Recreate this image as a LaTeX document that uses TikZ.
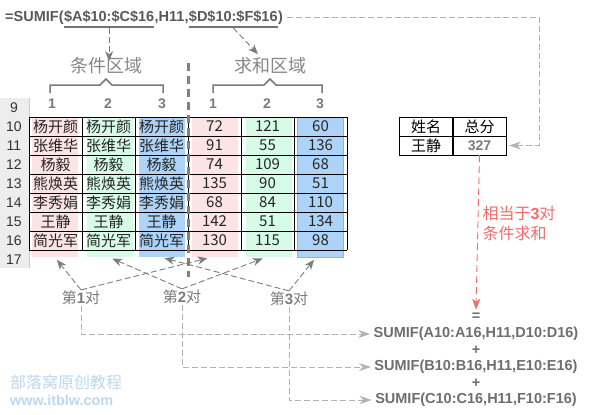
\documentclass[tikz,border=0pt]{standalone}
\usepackage{fontspec}
\setmainfont{Liberation Sans}
\newfontfamily\cjk{Noto Sans CJK SC}
\newcommand\pairno[1]{{\rmfamily\bfseries #1}}
\usetikzlibrary{arrows.meta}
\definecolor{cpink}{HTML}{FDE4E4}
\definecolor{cgreen}{HTML}{D6FCE8}
\definecolor{cblue}{HTML}{ADD3F8}
\definecolor{cbluedk}{HTML}{8CB6E2}
\definecolor{cgray}{HTML}{7A7A7A}
\definecolor{cline}{HTML}{9C9C9C}
\definecolor{cred}{HTML}{F26B6B}
\definecolor{cwater}{HTML}{BBD7F2}

\begin{document}
\begin{tikzpicture}[x=1pt,y=-1pt,
  cell/.style={inner sep=0pt,font=\cjk\fontsize{15}{18}\selectfont,text=black!85},
  band/.style={inner sep=0pt,minimum width=46pt,minimum height=140pt,anchor=north},
  fpart/.style={inner sep=0pt,anchor=base west,text=black!65,font=\bfseries\fontsize{14.5}{17}\selectfont},
  colno/.style={text=cgray,font=\bfseries\fontsize{14}{16}\selectfont},
  area/.style={text=cgray!90,font=\cjk\fontsize{18}{20}\selectfont},
  pair/.style={text=cgray,font=\cjk\fontsize{15}{17}\selectfont,inner sep=1pt},
  sumif/.style={text=cgray!90!black,font=\bfseries\fontsize{14.5}{17}\selectfont},
  tcell/.style={draw,minimum width=53pt,minimum height=19pt,inner sep=0pt,font=\cjk\fontsize{15}{18}\selectfont},
  gdash/.style={draw=cline,dash pattern=on 6pt off 3pt,line width=0.9pt},
  tip/.style={-{Stealth[length=10pt,width=8pt,inset=3pt]},cline!80!black},
  ltip/.style={-{Stealth[length=12pt,width=8pt,inset=4pt]},draw=black!30}]
\useasboundingbox (0,0) rectangle (600,415);

% row header
\fill[black!7] (0,98) rectangle (29,268);
\draw[black!20] (29,98) -- (29,268);
\foreach \r in {9,...,17}
  \node[text=black!80,font=\fontsize{14}{16}\selectfont] (row\r) at (14,{126.5+(\r-10)*19}) {\r};

% coloured columns
\node[band,fill=cpink] (colA) at (55,117) {};
\node[band,fill=cgreen] (colB) at (109.5,117) {};
\node[band,fill=cblue] (colC) at (161.5,117) {};
\node[band,fill=cpink] (colD) at (214.5,117) {};
\node[band,fill=cgreen] (colE) at (268.5,117) {};
\node[band,fill=cblue,draw=cbluedk] (colF) at (320,117) {};

% grid
\foreach \i in {0,...,6} \draw ({29+53*\i},117) -- ({29+53*\i},250);
\foreach \j in {0,...,7} \draw (29,{117+19*\j}) -- (347,{117+19*\j});

\foreach \r/\nm/\vd/\ve/\vf in {10/杨开颜/72/121/60,11/张维华/91/55/136,12/杨毅/74/109/68,13/熊焕英/135/90/51,14/李秀娟/68/84/110,15/王静/142/51/134,16/简光军/130/115/98}{
  \node[cell] (a\r) at (55.5,{126.5+(\r-10)*19}) {\nm};
  \node[cell] (b\r) at (108.5,{126.5+(\r-10)*19}) {\nm};
  \node[cell] (c\r) at (161.5,{126.5+(\r-10)*19}) {\nm};
  \node[cell] (d\r) at (214.5,{126.5+(\r-10)*19}) {\vd};
  \node[cell] (e\r) at (267.5,{126.5+(\r-10)*19}) {\ve};
  \node[cell] (f\r) at (320.5,{126.5+(\r-10)*19}) {\vf};
}

% divider
\draw[line width=3pt,black!50,dash pattern=on 8pt off 5pt] (188,63) -- (188,277);

% column numbers and brackets
\node[colno] (n1) at (52,104) {1};
\node[colno] (n2) at (108,104) {2};
\node[colno] (n3) at (162,104) {3};
\node[colno] (n4) at (213,104) {1};
\node[colno] (n5) at (267,104) {2};
\node[colno] (n6) at (320,104) {3};
\draw[cgray,line width=1.5pt] (50,93) -- (50,85) -- (100,85) -- (106,79) -- (112,85) -- (163,85) -- (163,93);
\draw[cgray,line width=1.5pt] (213,93) -- (213,85) -- (264,85) -- (270,79) -- (276,85) -- (322,85) -- (322,93);
\node[area] (crit) at (106,66) {条件区域};
\node[area] (sumr) at (270,66) {求和区域};

% formula
\node[fpart] (f1) at (5,21) {=SUMIF(};
\node[fpart] (f2) at (f1.base east) {\$A\$10:\$C\$16};
\node[fpart] (f3) at (f2.base east) {,H11,};
\node[fpart] (f4) at (f3.base east) {\$D\$10:\$F\$16};
\node[fpart] (f5) at (f4.base east) {)};
\draw[black!55,line width=1.5pt] ([yshift=-6pt]f2.base west) -- ([yshift=-6pt]f2.base east);
\draw[black!55,line width=1.5pt] ([yshift=-6pt]f4.base west) -- ([yshift=-6pt]f4.base east);
\draw[gdash,tip] ([yshift=-7pt]f2.base) -- ([yshift=-7pt]f2.base |- crit.north);
\draw[gdash,tip] ([yshift=-7pt]f4.base) -- ([xshift=-12pt]sumr.north);

% result table
\node[tcell] (hname) at (426,126.5) {姓名};
\node[tcell] (htot) at (479.5,126.5) {总分};
\node[tcell] (g11) at (426,145.5) {王静};
\node[tcell,text=cgray,font=\bfseries\fontsize{14}{16}\selectfont] (h11) at (479.5,145.5) {327};
\coordinate (turn) at (539,17);
\draw[gdash,draw=black!30,ltip,shorten <=4pt,shorten >=3pt] (f5.east) -- (f5.east -| turn) |- (h11.east);

% equivalent sums
\node[sumif] (eq) at (476,317) {=};
\node[sumif] (s1) at (476,334) {SUMIF(A10:A16,H11,D10:D16)};
\node[sumif] (pl1) at (476,350) {+};
\node[sumif] (s2) at (476,367) {SUMIF(B10:B16,H11,E10:E16)};
\node[sumif] (pl2) at (476,383) {+};
\node[sumif] (s3) at (476,400) {SUMIF(C10:C16,H11,F10:F16)};
\draw[cred,dash pattern=on 7pt off 4pt,line width=0.9pt,-{Stealth[length=11pt,width=8pt,inset=3pt]}] (h11.south) -- (eq.north);
\node[text=cred,font=\cjk\fontsize{16}{20}\selectfont,align=left,anchor=west] (note) at (479,223) {相当于\pairno{3}对\\条件求和};

% pairs
\node[pair] (p1) at (81,298) {第\pairno{1}对};
\node[pair] (p2) at (182,297) {第\pairno{2}对};
\node[pair] (p3) at (289,299) {第\pairno{3}对};
\draw[gdash,tip,shorten >=3pt] (p1.north) -- (colA.south);
\draw[gdash,tip,shorten >=3pt] (p1.north) -- ([xshift=-4pt]colD.south);
\draw[gdash,tip,shorten >=3pt] (p2.north) -- (colB.south);
\draw[gdash,tip,shorten >=3pt] (p2.north) -- ([xshift=-3pt]colE.south);
\draw[gdash,tip,shorten >=3pt] (p3.north) -- (colC.south);
\draw[gdash,tip,shorten >=3pt] (p3.north) -- ([xshift=-4pt]colF.south);
\draw[gdash,draw=black!35,ltip] (p1.south) |- (s1.west);
\draw[gdash,draw=black!35,ltip] (p2.south) |- (s2.west);
\draw[gdash,draw=black!35,ltip] (p3.south) |- (s3.west);

% watermark
\node[text=cwater,font=\cjk\fontsize{16}{18}\selectfont,anchor=west,inner sep=0pt] (wm1) at (10,382) {部落窝原创教程};
\node[text=cwater,font=\bfseries\fontsize{14.4}{16}\selectfont,anchor=west,inner sep=0pt] (wm2) at (10,400) {www.itblw.com};
\end{tikzpicture}
\end{document}
